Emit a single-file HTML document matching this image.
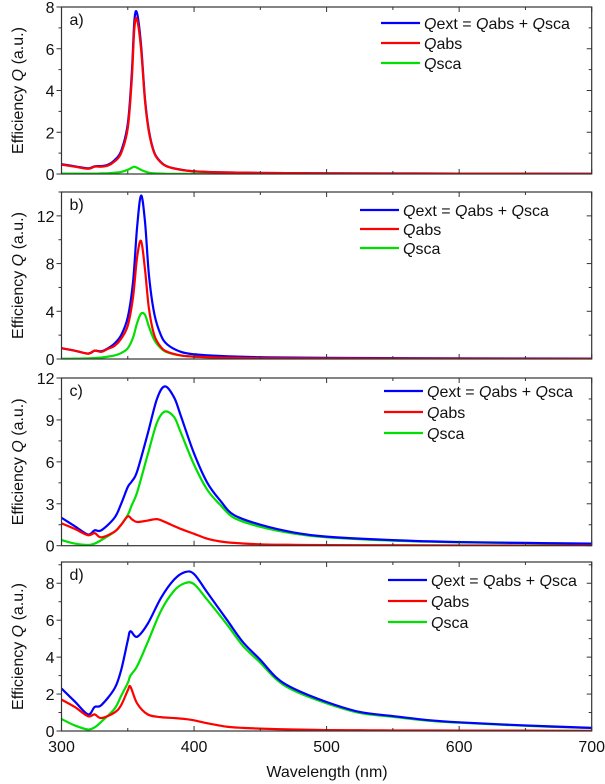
<!DOCTYPE html>
<html><head><meta charset="utf-8"><style>
body{margin:0;background:#fff;}
svg{display:block;font-family:"Liberation Sans",sans-serif;}
</style></head><body>
<svg id="chart" width="605" height="784"></svg>
<script>
const xA=[300,310,320,325,330,335,340,345,350,353,355,357,360,363,366,370,375,380,390,400,420,450,500,600,700];
const extA=[0.47,0.37,0.27,0.37,0.38,0.44,0.66,1.1,2.4,4.8,7.35,7.7,6.2,3.6,2.06,1.03,0.57,0.36,0.21,0.13,0.08,0.05,0.03,0.02,0.01];
const absA=[0.45,0.35,0.25,0.35,0.35,0.4,0.6,1.0,2.2,4.5,7.0,7.4,6.0,3.5,2.0,1.0,0.55,0.35,0.2,0.13,0.08,0.05,0.03,0.02,0.01];
const scaA=[0.02,0.02,0.02,0.02,0.03,0.04,0.06,0.1,0.2,0.3,0.35,0.3,0.2,0.12,0.06,0.03,0.02,0.01,0.01,0.01,0.01,0.01,0.01,0.01,0.01];
const xB=[300,310,320,325,330,335,340,345,350,354,357,360,363,366,370,375,380,390,400,420,450,500,600,700];
const extB=[0.9,0.7,0.45,0.7,0.65,0.9,1.3,2.0,3.5,6.5,11,13.7,11.5,7,3.8,2.0,1.2,0.6,0.4,0.25,0.15,0.1,0.05,0.03];
const absB=[0.9,0.7,0.45,0.7,0.6,0.85,1.1,1.7,2.8,5.2,8.5,9.9,7.5,4.2,2.0,1.0,0.6,0.3,0.2,0.12,0.07,0.04,0.02,0.01];
const scaB=[0.02,0.03,0.05,0.08,0.12,0.2,0.3,0.5,0.9,1.8,3.0,3.8,3.7,2.7,1.6,0.9,0.55,0.3,0.2,0.12,0.08,0.05,0.03,0.02];
const xC=[300,310,320,325,330,340,345,350,353,357,365,372,378,385,390,400,410,420,430,450,475,500,550,600,650,700];
const extC=[2.0,1.4,0.8,1.1,1.1,2.0,3.0,4.2,4.6,5.3,8.0,10.5,11.4,10.6,9.3,6.6,4.5,3.2,2.2,1.5,0.95,0.65,0.4,0.26,0.2,0.15];
const absC=[1.6,1.2,0.75,0.9,0.6,1.0,1.5,2.1,1.9,1.7,1.8,1.9,1.7,1.4,1.2,0.85,0.5,0.3,0.2,0.1,0.06,0.04,0.03,0.02,0.01,0.01];
const scaC=[0.4,0.15,0.05,0.15,0.4,1.0,1.5,2.2,2.9,3.8,6.5,8.8,9.6,9.2,8.1,5.8,4.0,2.9,2.0,1.35,0.87,0.6,0.36,0.24,0.18,0.14];
const xD=[300,310,320,325,330,340,345,350,352,357,365,375,385,393,400,410,425,437,450,462,475,500,525,550,575,600,650,700];
const extD=[2.3,1.6,0.9,1.3,1.4,2.3,3.3,4.9,5.4,5.1,5.8,7.2,8.2,8.6,8.5,7.5,6.0,4.8,3.85,2.9,2.3,1.57,1.03,0.81,0.6,0.47,0.3,0.17];
const absD=[1.7,1.3,0.8,0.9,0.7,1.0,1.4,2.2,2.4,1.5,0.9,0.75,0.7,0.65,0.58,0.42,0.23,0.17,0.13,0.1,0.08,0.05,0.04,0.03,0.03,0.02,0.02,0.01];
const scaD=[0.65,0.3,0.08,0.2,0.5,1.2,1.9,2.6,3.0,3.5,4.8,6.5,7.6,8.0,7.95,7.1,5.75,4.6,3.7,2.8,2.2,1.5,0.98,0.77,0.57,0.45,0.28,0.16];
const xTicks=[300,400,500,600,700];
const yTicksA=[0,2,4,6,8], yTicksB=[0,4,8,12], yTicksC=[0,3,6,9,12], yTicksD=[0,2,4,6,8];

const NS="http://www.w3.org/2000/svg";
const svg=document.getElementById('chart');
const L=61.5,R=591.7;
const xs=v=>L+(v-300)/400*(R-L);
function mk(tag,attrs,parent){const e=document.createElementNS(NS,tag);for(const k in attrs)e.setAttribute(k,attrs[k]);(parent||svg).appendChild(e);return e;}
function pathD(xv,yv,ys){
  const p=xv.map((x,i)=>[xs(x),ys(yv[i])]);
  let d=`M${p[0][0]},${p[0][1]}`;
  for(let i=0;i<p.length-1;i++){
    const p0=p[Math.max(0,i-1)],p1=p[i],p2=p[i+1],p3=p[Math.min(p.length-1,i+2)];
    const c1=[p1[0]+(p2[0]-p0[0])/6,p1[1]+(p2[1]-p0[1])/6];
    const c2=[p2[0]-(p3[0]-p1[0])/6,p2[1]-(p3[1]-p1[1])/6];
    d+=` C${c1[0]},${c1[1]} ${c2[0]},${c2[1]} ${p2[0]},${p2[1]}`;
  }
  return d;
}
const panels=[
 {id:'a',top:7,bot:174,ymax:8,ticks:yTicksA,minor:1,x:xA,ext:extA,abs:absA,sca:scaA,leg:{y:23,lx:381,tx:424,dy:20}},
 {id:'b',top:192,bot:359,ymax:14,ticks:yTicksB,minor:2,x:xB,ext:extB,abs:absB,sca:scaB,leg:{y:210,lx:360,tx:403,dy:19}},
 {id:'c',top:378,bot:545.7,ymax:12,ticks:yTicksC,minor:1.5,x:xC,ext:extC,abs:absC,sca:scaC,leg:{y:391,lx:384,tx:427,dy:21}},
 {id:'d',top:562,bot:731,ymax:9.15,ticks:yTicksD,minor:1,x:xD,ext:extD,abs:absD,sca:scaD,leg:{y:580,lx:388,tx:431,dy:21}}
];
panels.forEach(P=>{
  const g=mk('g',{});
  
  
  const ys=v=>P.bot-v/P.ymax*(P.bot-P.top);
  const clipId='clip'+P.id;
  const cp=mk('clipPath',{id:clipId},g);mk('rect',{x:L,y:P.top,width:R-L,height:P.bot-P.top},cp);
  const series=[['ext',P.ext,'#0000ff'],['abs',P.abs,'#ff0000'],['sca',P.sca,'#00e000']];
  const ord=[series[2],series[0],series[1]];
  ord.forEach(s=>{
    const pth=mk('path',{d:pathD(P.x,s[1],ys),fill:'none',stroke:s[2],'stroke-width':2.2,'clip-path':`url(#${clipId})`},g);
    
    
  });
  const fr=mk('rect',{x:L,y:P.top,width:R-L,height:P.bot-P.top,fill:'none',stroke:'#333','stroke-width':1.2},g);
  
  
  for(let v=300;v<=700;v+=50){const X=xs(v),len=v%100===0?5:3;
    mk('line',{x1:X,x2:X,y1:P.top,y2:P.top+len,stroke:'#333'},g);
    mk('line',{x1:X,x2:X,y1:P.bot,y2:P.bot-len,stroke:'#333'},g);}
  for(let v=0;v<=P.ymax+1e-6;v+=P.minor){const Y=ys(v);const maj=P.ticks.some(t=>Math.abs(t-v)<1e-6);const len=maj?5:3;
    mk('line',{x1:L-len,x2:L,y1:Y,y2:Y,stroke:'#333'},g);
    mk('line',{x1:R-len,x2:R,y1:Y,y2:Y,stroke:'#333'},g);}
  P.ticks.forEach(t=>{const tx=mk('text',{x:L-7,y:ys(t)+6,'text-anchor':'end','font-size':16,fill:'#111'},g);tx.textContent=t;
    
    });
  const lab=mk('text',{x:L+8,y:P.top+18,'font-size':16,fill:'#111'},g);lab.textContent=P.id+')';
  
  
  const cy=(P.top+P.bot)/2;
  const yt=mk('text',{x:0,y:0,transform:`translate(23,${cy}) rotate(-90)`,'text-anchor':'middle','font-size':16,fill:'#111'},g);
  yt.innerHTML='Efficiency <tspan font-style="italic">Q</tspan> (a.u.)';
  
  
  const labels=['<tspan font-style="italic">Q</tspan>ext = <tspan font-style="italic">Q</tspan>abs + <tspan font-style="italic">Q</tspan>sca','<tspan font-style="italic">Q</tspan>abs','<tspan font-style="italic">Q</tspan>sca'];
  series.forEach((s,i)=>{const Y=P.leg.y+i*P.leg.dy;
    const lg=mk('g',{},g);
    
    
    mk('line',{x1:P.leg.lx,x2:P.leg.lx+39,y1:Y,y2:Y,stroke:s[2],'stroke-width':2.2},lg);
    const t=mk('text',{x:P.leg.tx,y:Y+6,'font-size':16,fill:'#111'},lg);t.innerHTML=labels[i];});
});
xTicks.forEach(v=>{const t=mk('text',{x:xs(v),y:752,'text-anchor':'middle','font-size':16,fill:'#111'});t.textContent=v;
  
  });
const xt=mk('text',{x:327,y:777,'text-anchor':'middle','font-size':16,fill:'#111'});xt.textContent='Wavelength (nm)';


</script>
</body></html>
